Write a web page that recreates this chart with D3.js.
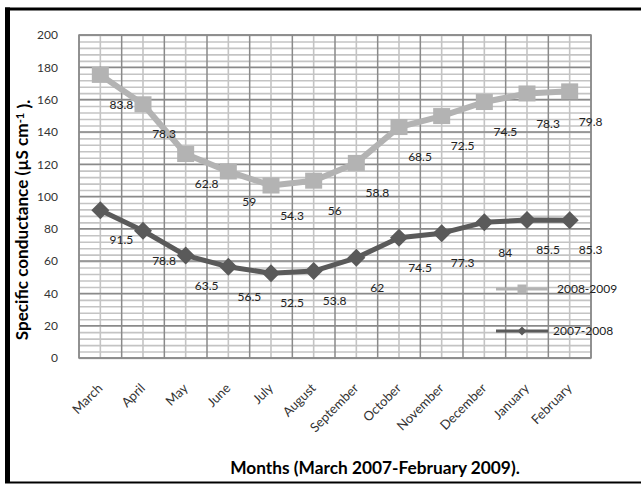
<!DOCTYPE html>
<html>
<head>
<meta charset="utf-8">
<script src="https://cdn.jsdelivr.net/npm/d3@7"></script>
<style>
  html, body { margin: 0; padding: 0; background: #fff; }
  svg { display: block; }
  text { font-family: Lato, "Open Sans", sans-serif; }
</style>
</head>
<body>
<div id="chart"></div>
<script>
// ---- data ----
const months = ["March","April","May","June","July","August","September","October","November","December","January","February"];
const series2007 = [91.5, 78.8, 63.5, 56.5, 52.5, 53.8, 62, 74.5, 77.3, 84, 85.5, 85.3];
const series2008 = [83.8, 78.3, 62.8, 59, 54.3, 56, 58.8, 68.5, 72.5, 74.5, 78.3, 79.8];
const seriesNames = ["2008-2009", "2007-2008"];
const yTicks = [0, 20, 40, 60, 80, 100, 120, 140, 160, 180, 200];
const xTitle = "Months (March 2007-February 2009).";

(function () {
// ---- layout ----
const W = 641, H = 484;
const pL = 79, pR = 591, pT = 35, pB = 358;
const FS = 12;

const svg = d3.select("#chart").append("svg").attr("width", W).attr("height", H);
svg.append("rect").attr("width", W).attr("height", H).attr("fill", "#fff");

const x = d3.scaleBand().domain(months).range([pL, pR]).padding(0);
const y = d3.scaleLinear().domain([0, 200]).range([pB, pT]);
const cx = m => x(m) + x.bandwidth() / 2;

// stacked values (line chart is stacked)
const stacked2008 = series2008.map((v, i) => v + series2007[i]);

const grid = svg.append("g");
grid.selectAll("line.hmin").data(d3.range(0, 201, 4)).join("line")
  .attr("x1", pL).attr("x2", pR)
  .attr("y1", d => y(d) + 0.5).attr("y2", d => y(d) + 0.5)
  .attr("stroke", "#c4c4c4").attr("stroke-width", 1.6);
grid.selectAll("line.vmin").data(months).join("line")
  .attr("x1", d => cx(d)).attr("x2", d => cx(d))
  .attr("y1", pT).attr("y2", pB)
  .attr("stroke", "#c4c4c4").attr("stroke-width", 1.6);
grid.selectAll("line.hmaj").data(yTicks).join("line")
  .attr("x1", pL).attr("x2", pR)
  .attr("y1", d => y(d)).attr("y2", d => y(d))
  .attr("stroke", "#8a8a8a").attr("stroke-width", 1.5);
const bounds = months.map(m => x(m)).concat([pR]);
grid.selectAll("line.vmaj").data(bounds).join("line")
  .attr("x1", d => d).attr("x2", d => d)
  .attr("y1", pT).attr("y2", pB)
  .attr("stroke", "#8a8a8a").attr("stroke-width", 1.5);
svg.append("rect").attr("x", pL).attr("y", pT)
  .attr("width", pR - pL).attr("height", pB - pT)
  .attr("fill", "none").attr("stroke", "#8a8a8a").attr("stroke-width", 1.5);

// y axis labels
const yAxis = d3.axisLeft(y).tickValues(yTicks).tickSize(0).tickPadding(21);
const ya = svg.append("g").attr("transform", `translate(${pL},0)`).call(yAxis);
ya.select(".domain").remove();
ya.selectAll("text").attr("font-size", FS).attr("fill", "#333").style("font-family", "Lato, sans-serif");

// x axis labels
const xAxis = d3.axisBottom(x).tickSize(0).tickPadding(0);
const xa = svg.append("g").attr("transform", `translate(0,${pB})`).call(xAxis);
xa.select(".domain").remove();
xa.selectAll("text")
  .attr("font-size", 13).attr("fill", "#333").style("font-family", "Lato, sans-serif")
  .attr("text-anchor", "end")
  .attr("y", 0).attr("dy", 0)
  .attr("transform", "translate(3,31) rotate(-45)");

// lines
const line = d3.line().x((d, i) => cx(months[i])).y(d => y(d));
svg.append("path").datum(series2007).attr("d", line)
  .attr("fill", "none").attr("stroke", "#5a5a5a").attr("stroke-width", 5).attr("stroke-linejoin", "round");
svg.append("path").datum(stacked2008).attr("d", line)
  .attr("fill", "none").attr("stroke", "#b3b3b3").attr("stroke-width", 6).attr("stroke-linejoin", "round");

// markers
const dm = 9;
svg.selectAll("path.dia").data(series2007).join("path")
  .attr("d", (d, i) => {
    const px = cx(months[i]), py = y(d);
    return `M${px},${py - dm}L${px + dm},${py}L${px},${py + dm}L${px - dm},${py}Z`;
  })
  .attr("fill", "#5a5a5a");
const sq = 17;
svg.selectAll("rect.sq").data(stacked2008).join("rect")
  .attr("x", (d, i) => cx(months[i]) - sq / 2).attr("y", d => y(d) - 8)
  .attr("width", sq).attr("height", 16)
  .attr("fill", "#b3b3b3");

// data labels
const lblDx = 21, lblDy = 30;
svg.selectAll("text.l7").data(series2007).join("text")
  .attr("x", (d, i) => cx(months[i]) + lblDx).attr("y", d => y(d) + lblDy)
  .attr("text-anchor", "middle").attr("dy", "0.35em")
  .attr("font-size", FS).attr("fill", "#222").text(d => d);
svg.selectAll("text.l8").data(series2008).join("text")
  .attr("x", (d, i) => cx(months[i]) + lblDx).attr("y", (d, i) => y(stacked2008[i]) + lblDy)
  .attr("text-anchor", "middle").attr("dy", "0.35em")
  .attr("font-size", FS).attr("fill", "#222").text(d => d);

// legend
const lg = svg.append("g");
const legY = [289, 331];
lg.append("line").attr("x1", 496).attr("x2", 548).attr("y1", legY[0]).attr("y2", legY[0])
  .attr("stroke", "#b3b3b3").attr("stroke-width", 3);
lg.append("rect").attr("x", 522 - 4.5).attr("y", legY[0] - 4.5).attr("width", 9).attr("height", 9).attr("fill", "#b3b3b3");
lg.append("text").attr("x", 557).attr("y", legY[0]).attr("dy", "0.35em")
  .attr("font-size", FS).attr("fill", "#222").text(seriesNames[0]);
lg.append("line").attr("x1", 496).attr("x2", 548).attr("y1", legY[1]).attr("y2", legY[1])
  .attr("stroke", "#5a5a5a").attr("stroke-width", 3);
lg.append("path").attr("d", `M522,${legY[1] - 4.5}L526.5,${legY[1]}L522,${legY[1] + 4.5}L517.5,${legY[1]}Z`).attr("fill", "#5a5a5a");
lg.append("text").attr("x", 553).attr("y", legY[1]).attr("dy", "0.35em")
  .attr("font-size", FS).attr("fill", "#222").text(seriesNames[1]);

// axis titles (font sized to match target width)
function fitFont(sel, base, target) {
  const w = sel.node().getBBox().width;
  if (w > 0) sel.attr("font-size", base * target / w);
}
const xt = svg.append("text").attr("x", 375).attr("y", 474)
  .attr("text-anchor", "middle").attr("font-size", 16).attr("font-weight", "bold").attr("fill", "#000")
  .text(xTitle);
fitFont(xt, 16, 290);

const yt = svg.append("text").attr("x", 0).attr("y", 0)
  .attr("text-anchor", "middle").attr("font-size", 16).attr("font-weight", "bold").attr("fill", "#000");
yt.append("tspan").text("Specific conductance (µS cm");
yt.append("tspan").attr("dy", "-0.4em").attr("font-size", "0.65em").text("-1");
yt.append("tspan").attr("dy", "0.4em").text(" ).");
fitFont(yt, 16, 241);
yt.attr("transform", "translate(28,220) rotate(-90)");

// outer frame
svg.append("line").attr("x1", 5).attr("x2", W).attr("y1", 9).attr("y2", 9).attr("stroke", "#000").attr("stroke-width", 3);
svg.append("line").attr("x1", 7.5).attr("x2", 7.5).attr("y1", 7.5).attr("y2", 483).attr("stroke", "#000").attr("stroke-width", 5);
svg.append("line").attr("x1", 5).attr("x2", W).attr("y1", 482.5).attr("y2", 482.5).attr("stroke", "#000").attr("stroke-width", 2);
})();
</script>
</body>
</html>
